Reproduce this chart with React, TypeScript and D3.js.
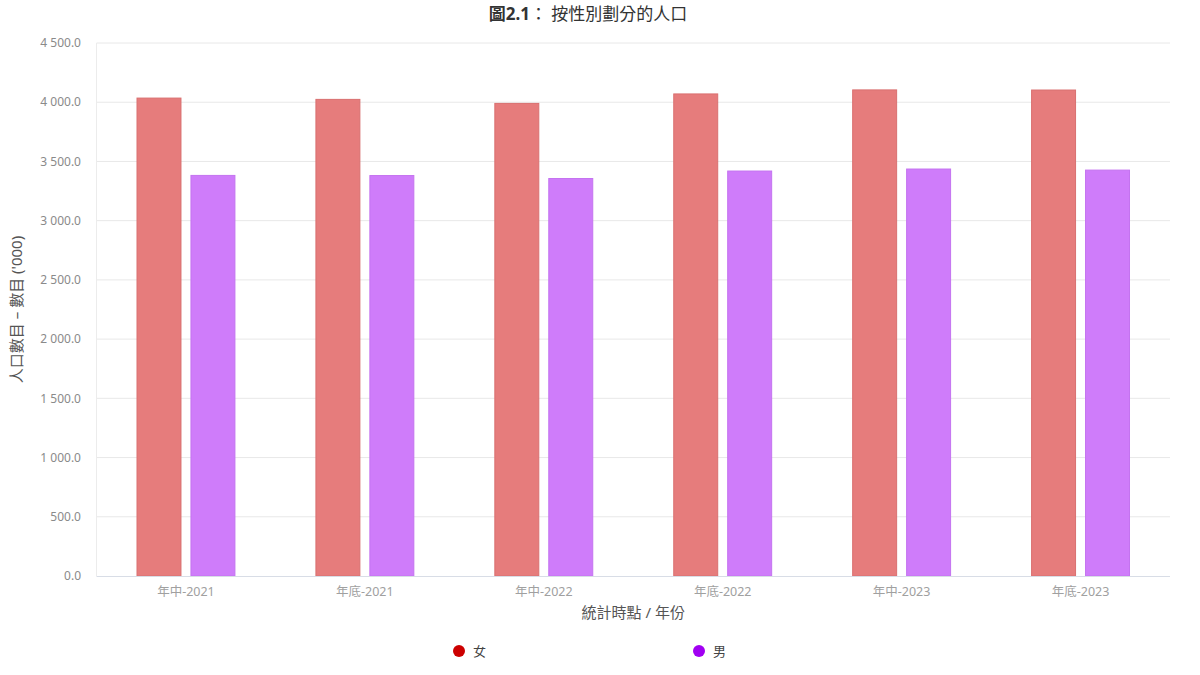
import { useEffect, useRef } from "react";
import * as d3 from "d3";

const categories = ["年中-2021", "年底-2021", "年中-2022", "年底-2022", "年中-2023", "年底-2023"];
const seriesNames = ["女", "男"];
const femaleValues = [4035, 4024, 3990, 4070, 4104, 4103];
const maleValues = [3382, 3381, 3356, 3419, 3436, 3427];
const yTicks = [0, 500, 1000, 1500, 2000, 2500, 3000, 3500, 4000, 4500];

const barFill = ["#e67c7c", "#cf7cfa"];
const barStroke = ["#d97070", "#c473f0"];
const legendColors = ["#cc0000", "#a100f2"];

const FONT = "'Noto Sans', 'Noto Sans CJK TC', sans-serif";

export default function App() {
  const svgRef = useRef<SVGSVGElement>(null);

  useEffect(() => {
    if (!svgRef.current) return;
    const svg = d3.select(svgRef.current);
    svg.selectAll("*").remove();

    const width = 1200;
    const height = 675;
    const margin = { top: 43, right: 30, bottom: 99, left: 96.5 };
    const plotRight = width - margin.right;
    const plotBottom = height - margin.bottom;

    const x0 = d3.scaleBand<string>()
      .domain(categories)
      .range([margin.left, plotRight])
      .padding(0);

    const bw = x0.bandwidth();
    const groupPad = 40.5;
    const x1 = d3.scaleBand<string>()
      .domain(seriesNames)
      .range([groupPad, bw - groupPad])
      .paddingInner(0.185)
      .paddingOuter(0);

    const y = d3.scaleLinear().domain([0, 4500]).range([plotBottom, margin.top]);

    const fmt = (v: number) => d3.format(",.1f")(v).replace(/,/g, " ");

    // grid
    svg.append("g")
      .selectAll("line")
      .data(yTicks.filter(t => t > 0))
      .enter()
      .append("line")
      .attr("x1", margin.left)
      .attr("x2", plotRight)
      .attr("y1", d => y(d))
      .attr("y2", d => y(d))
      .attr("stroke", "#e8e8e8")
      .attr("stroke-width", 1);

    // left axis line
    svg.append("line")
      .attr("x1", margin.left)
      .attr("x2", margin.left)
      .attr("y1", margin.top)
      .attr("y2", plotBottom)
      .attr("stroke", "#ececec");

    // y tick labels
    svg.append("g")
      .selectAll("text")
      .data(yTicks)
      .enter()
      .append("text")
      .attr("x", 81)
      .attr("y", d => y(d))
      .attr("dy", "0.35em")
      .attr("text-anchor", "end")
      .style("font-family", FONT)
      .style("font-size", "12px")
      .style("fill", "#8a8a8a")
      .text(d => fmt(d));

    // bars
    const data = categories.map((c, i) => ({ category: c, values: [femaleValues[i], maleValues[i]] }));
    const groups = svg.append("g")
      .selectAll("g")
      .data(data)
      .enter()
      .append("g")
      .attr("transform", d => `translate(${x0(d.category)},0)`);

    groups.selectAll("rect")
      .data(d => d.values.map((v, k) => ({ key: seriesNames[k], k, v })))
      .enter()
      .append("rect")
      .attr("x", d => x1(d.key) || 0)
      .attr("width", x1.bandwidth())
      .attr("y", d => y(d.v))
      .attr("height", d => plotBottom - y(d.v))
      .attr("fill", d => barFill[d.k])
      .attr("stroke", d => barStroke[d.k])
      .attr("stroke-width", 1);

    // x axis line
    svg.append("line")
      .attr("x1", margin.left)
      .attr("x2", plotRight)
      .attr("y1", plotBottom + 0.5)
      .attr("y2", plotBottom + 0.5)
      .attr("stroke", "#d8dde6");

    // x tick labels
    svg.append("g")
      .selectAll("text")
      .data(categories)
      .enter()
      .append("text")
      .attr("x", d => (x0(d) || 0) + bw / 2)
      .attr("y", 596)
      .attr("text-anchor", "middle")
      .style("font-family", FONT)
      .style("font-size", "12.5px")
      .style("fill", "#a0a0a0")
      .text(d => d);

    // x axis title
    svg.append("text")
      .attr("x", (margin.left + plotRight) / 2)
      .attr("y", 618)
      .attr("text-anchor", "middle")
      .style("font-family", FONT)
      .style("font-size", "15px")
      .style("fill", "#555")
      .text("統計時點 / 年份");

    // y axis title
    svg.append("text")
      .attr("transform", `translate(22,${(margin.top + plotBottom) / 2}) rotate(-90)`)
      .attr("text-anchor", "middle")
      .style("font-family", FONT)
      .style("font-size", "15px")
      .style("fill", "#555")
      .text("人口數目 – 數目 ('000)");

    // title
    const title = svg.append("text")
      .attr("x", 588)
      .attr("y", 20)
      .attr("text-anchor", "middle")
      .style("font-family", FONT)
      .style("font-size", "17px")
      .style("fill", "#333");
    title.append("tspan").style("font-weight", "bold").text("圖2.1");
    title.append("tspan").text("：  按性別劃分的人口");

    // legend
    const legendX = [459, 699];
    const legend = svg.append("g")
      .selectAll("g")
      .data(seriesNames)
      .enter()
      .append("g")
      .attr("transform", (_, i) => `translate(${legendX[i]},651)`);
    legend.append("circle")
      .attr("r", 6)
      .attr("fill", (_, i) => legendColors[i]);
    legend.append("text")
      .attr("x", 14)
      .attr("dy", "0.35em")
      .style("font-family", FONT)
      .style("font-size", "13px")
      .style("fill", "#444")
      .text(d => d);
  }, []);

  return (
    <svg
      ref={svgRef}
      width={1200}
      height={675}
      style={{ position: "absolute", left: 0, top: 0, background: "#fff" }}
    />
  );
}
